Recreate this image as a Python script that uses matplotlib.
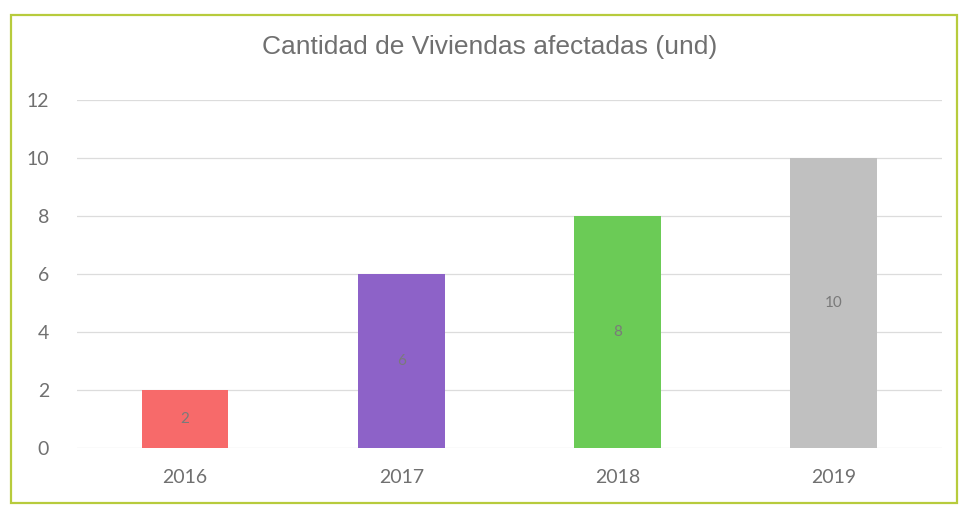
import matplotlib
matplotlib.use("Agg")
import matplotlib.pyplot as plt
from matplotlib.patches import Rectangle

years = ["2016", "2017", "2018", "2019"]
viviendas = [2, 6, 8, 10]
bar_colors = ["#F76A6A", "#8D62C8", "#6BCB56", "#C0C0C0"]
y_ticks = [0, 2, 4, 6, 8, 10, 12]

fig = plt.figure(figsize=(9.62, 5.07), dpi=100)
fig.patch.set_facecolor("white")

# chart frame
fig.patches.append(Rectangle((0.011, 0.008), 0.984, 0.962, transform=fig.transFigure,
                             fill=False, edgecolor="#B7CB3C", linewidth=1.6))

ax = fig.add_axes([0.080, 0.1164, 0.899, 0.686])
x = range(len(years))
bars = ax.bar(x, viviendas, width=0.4, color=bar_colors, zorder=2)

for xi, v in zip(x, viviendas):
    ax.text(xi, v / 2, str(v), ha="center", va="center", fontsize=11,
            color="#7A7A7A", family="Lato", zorder=3)

ax.set_xlim(-0.5, 3.5)
ax.set_ylim(0, 12)
ax.set_yticks(y_ticks)
ax.set_xticks(list(x))
ax.set_xticklabels(years)
ax.yaxis.grid(True, color="#DCDCDC", linewidth=0.9, zorder=0)
ax.set_axisbelow(True)
for s in ax.spines.values():
    s.set_visible(False)
ax.tick_params(length=0, labelsize=14, labelcolor="#707070")
ax.tick_params(axis="y", pad=20)
ax.tick_params(axis="x", pad=15)
for lbl in ax.get_xticklabels() + ax.get_yticklabels():
    lbl.set_family("Lato")

fig.text(0.509, 0.907, "Cantidad de Viviendas afectadas (und)", ha="center", va="center",
         fontsize=19, color="#707070", family="Liberation Sans")

fig.savefig("out.png", dpi=100)
